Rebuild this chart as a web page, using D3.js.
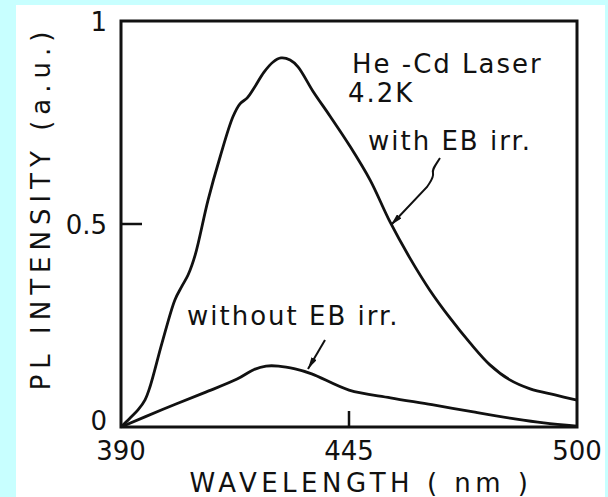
<!DOCTYPE html>
<html>
<head>
<meta charset="utf-8">
<script src="https://cdn.jsdelivr.net/npm/d3@7"></script>
<style>
  body { margin: 0; background: #c8ffff; }
  text { font-family: "DejaVu Sans", sans-serif; fill: #111; }
</style>
</head>
<body>
<div class="chart"></div>
<script>
var svgWidth = 608;
var svgHeight = 497;

var margin = { top: 21, right: 31, bottom: 70, left: 121 };
var width = svgWidth - margin.left - margin.right;
var height = svgHeight - margin.top - margin.bottom;

// data
var xTicks = [390, 445, 500];
var yTicks = [0, 0.5, 1];
var yTickLabels = ["0", "0.5", "1"];

var withWl = [390, 392.2, 394.1, 395.8, 397.0, 399.9, 403.0, 404.7, 406.2, 407.9, 411.0, 413.9, 417.0,
  418.7, 420.4, 422.1, 424.5, 426.7, 428.6, 430.8, 432.7, 436.3, 440.4, 445.2, 450.1, 454.9,
  459.7, 464.5, 469.4, 474.2, 479.0, 483.8, 488.7, 494.7, 500];
var withPl = [0, 0.022, 0.042, 0.067, 0.099, 0.207, 0.313, 0.347, 0.375, 0.424, 0.559, 0.665, 0.764,
  0.796, 0.810, 0.835, 0.874, 0.899, 0.909, 0.904, 0.887, 0.827, 0.766, 0.692, 0.608, 0.505,
  0.416, 0.337, 0.268, 0.207, 0.153, 0.116, 0.094, 0.079, 0.066];

var withoutWl = [390, 400, 410, 418, 422, 425, 428, 432, 436, 445, 455, 465, 475, 485, 492, 500];
var withoutPl = [0, 0.043, 0.084, 0.118, 0.141, 0.150, 0.150, 0.143, 0.131, 0.091, 0.072, 0.055, 0.037, 0.020, 0.010, 0.002];

var svg = d3.select(".chart")
  .append("svg")
  .attr("width", svgWidth)
  .attr("height", svgHeight);

// white sheet on the cyan page
svg.append("rect")
  .attr("x", 16).attr("y", 5)
  .attr("width", 589).attr("height", 492)
  .attr("fill", "#fff");

var chartGroup = svg.append("g")
  .attr("transform", `translate(${margin.left}, ${margin.top})`);

var xScale = d3.scaleLinear().domain([390, 500]).range([0, width]);
var yScale = d3.scaleLinear().domain([0, 1]).range([height, 0]);

// frame
chartGroup.append("rect")
  .attr("width", width).attr("height", height)
  .attr("fill", "none")
  .attr("stroke", "#111")
  .attr("stroke-width", 3);

// inward ticks
chartGroup.selectAll(".xtick")
  .data(xTicks.slice(1, 2))
  .enter().append("line")
  .attr("x1", d => xScale(d)).attr("x2", d => xScale(d))
  .attr("y1", height).attr("y2", height - 16)
  .attr("stroke", "#111").attr("stroke-width", 2.5);

chartGroup.selectAll(".ytick")
  .data(yTicks.slice(1, 2))
  .enter().append("line")
  .attr("x1", 0).attr("x2", 21)
  .attr("y1", d => yScale(d)).attr("y2", d => yScale(d))
  .attr("stroke", "#111").attr("stroke-width", 2.5);

// tick labels
chartGroup.selectAll(".xlabel")
  .data(xTicks)
  .enter().append("text")
  .attr("x", d => xScale(d))
  .attr("y", height + 33)
  .attr("text-anchor", "middle")
  .style("font-size", "26px")
  .text(d => d);

chartGroup.selectAll(".ylabel")
  .data(yTicks)
  .enter().append("text")
  .attr("x", -14)
  .attr("y", (d, i) => yScale(d) + (i === 0 ? 3 : 10))
  .attr("text-anchor", "end")
  .style("font-size", "26px")
  .text((d, i) => yTickLabels[i]);

// axis titles
chartGroup.append("text")
  .attr("x", width / 2 + 12)
  .attr("y", height + 65)
  .attr("text-anchor", "middle")
  .style("font-size", "26px")
  .style("letter-spacing", "4.5px")
  .text("WAVELENGTH ( nm )");

chartGroup.append("text")
  .attr("transform", "rotate(-90)")
  .attr("x", -(height / 2) + 16)
  .attr("y", -71)
  .attr("text-anchor", "middle")
  .style("font-size", "26px")
  .style("letter-spacing", "6px")
  .text("PL  INTENSITY (a.u.)");

// curves
var line = d3.line()
  .x(d => xScale(d[0]))
  .y(d => yScale(d[1]))
  .curve(d3.curveCatmullRom.alpha(0.5));

chartGroup.append("path")
  .datum(withWl.map((w, i) => [w, withPl[i]]))
  .attr("d", line)
  .attr("fill", "none")
  .attr("stroke", "#111")
  .attr("stroke-width", 2.8);

chartGroup.append("path")
  .datum(withoutWl.map((w, i) => [w, withoutPl[i]]))
  .attr("d", line)
  .attr("fill", "none")
  .attr("stroke", "#111")
  .attr("stroke-width", 2.8);

// annotations
svg.append("defs").append("marker")
  .attr("id", "head")
  .attr("viewBox", "0 0 12 6")
  .attr("refX", 12).attr("refY", 3)
  .attr("markerWidth", 12).attr("markerHeight", 6)
  .attr("markerUnits", "userSpaceOnUse")
  .attr("orient", "auto")
  .append("path")
  .attr("d", "M0,0 L12,3 L0,6 Z")
  .attr("fill", "#111");

var notes = chartGroup.append("g").style("font-size", "26px").style("letter-spacing", "2px");
notes.append("text").attr("x", 231).attr("y", 52).text("He -Cd Laser");
notes.append("text").attr("x", 227).attr("y", 81).text("4.2K");
notes.append("text").attr("x", 247).attr("y", 129).text("with EB irr.");
notes.append("text").attr("x", 66).attr("y", 304).text("without EB irr.");

chartGroup.append("path")
  .attr("d", "M319,137 C314,145 311,148 312,152 C313,157 309,161 306,166 L270,204")
  .attr("fill", "none")
  .attr("stroke", "#111")
  .attr("stroke-width", 2)
  .attr("marker-end", "url(#head)");

chartGroup.append("path")
  .attr("d", "M204,319 L187,348")
  .attr("fill", "none")
  .attr("stroke", "#111")
  .attr("stroke-width", 2)
  .attr("marker-end", "url(#head)");
</script>
</body>
</html>
